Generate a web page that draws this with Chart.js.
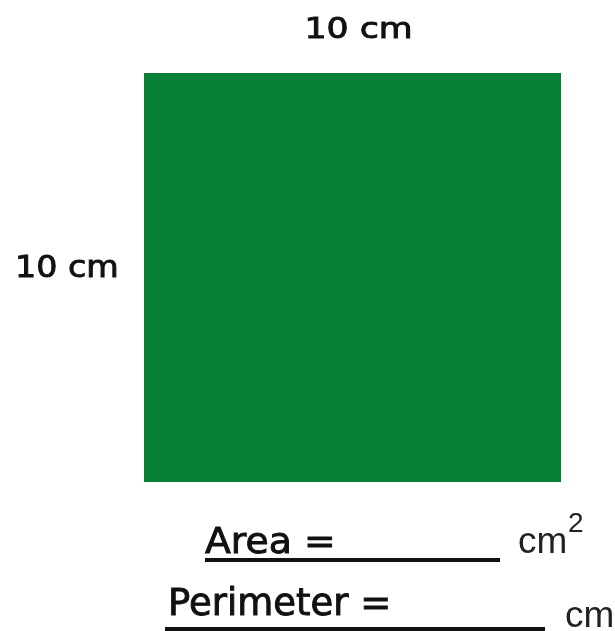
<!DOCTYPE html>
<html>
<head>
<meta charset="utf-8">
<script src="https://cdn.jsdelivr.net/npm/chart.js@4"></script>
<style>
  html, body { margin: 0; padding: 0; background: #fff; }
  #wrap { width: 615px; height: 631px; position: relative; }
</style>
</head>
<body>
<div id="wrap"><canvas id="sq"></canvas></div>
<script>
const shapes = ["square"];
const sideValues = [10];
const sideLabels = ["10 cm", "10 cm"];
const answerLabels = ["Area =", "Perimeter ="];
const unitLabels = ["cm", "cm"];

const textFont = "'DejaVu Sans', sans-serif";
const unitFont = "'Liberation Sans', sans-serif";

// text with a horizontal stretch, the worksheet font is wider and heavier than DejaVu
function drawText(ctx, text, x, y, font, sx, color, align, heavy) {
  ctx.save();
  ctx.font = font;
  ctx.fillStyle = color;
  ctx.strokeStyle = color;
  ctx.textAlign = align || "left";
  ctx.textBaseline = "alphabetic";
  ctx.translate(x, y);
  ctx.scale(sx, 1);
  ctx.fillText(text, 0, 0);
  if (heavy) {
    ctx.lineWidth = 0.9;
    ctx.strokeText(text, 0, 0);
  }
  ctx.restore();
}

const worksheetText = {
  id: "worksheetText",
  afterDraw(chart) {
    const ctx = chart.ctx;
    const a = chart.chartArea;

    drawText(ctx, sideLabels[0], (a.left + a.right) / 2 + 6, 38, "28px " + textFont, 1.24, "#111", "center", true);
    drawText(ctx, sideLabels[1], 15, 277, "30px " + textFont, 1.11, "#111", "left", true);

    // Area line
    drawText(ctx, answerLabels[0], 205, 553, "36px " + textFont, 1.05, "#111", "left", true);
    ctx.fillStyle = "#111";
    ctx.fillRect(205, 558, 295, 4);
    drawText(ctx, unitLabels[0], 518, 553, "37px " + unitFont, 1, "#222");
    drawText(ctx, "2", 568, 532, "28px " + unitFont, 1, "#222");

    // Perimeter line
    drawText(ctx, answerLabels[1], 168, 615, "37px " + textFont, 1, "#111", "left", true);
    ctx.fillStyle = "#111";
    ctx.fillRect(165, 627, 380, 4);
    drawText(ctx, unitLabels[1], 565, 627, "37px " + unitFont, 1, "#222");
  }
};

new Chart(document.getElementById("sq"), {
  type: "bar",
  data: {
    labels: shapes,
    datasets: [{
      data: sideValues,
      backgroundColor: "#077f37",
      borderWidth: 0,
      barPercentage: 1,
      categoryPercentage: 1
    }]
  },
  options: {
    responsive: true,
    maintainAspectRatio: false,
    animation: false,
    layout: { padding: { left: 144, right: 54, top: 73, bottom: 149 } },
    plugins: { legend: { display: false }, tooltip: { enabled: false } },
    scales: {
      x: { display: false },
      y: { display: false, min: 0, max: 10 }
    }
  },
  plugins: [worksheetText]
});
</script>
</body>
</html>
